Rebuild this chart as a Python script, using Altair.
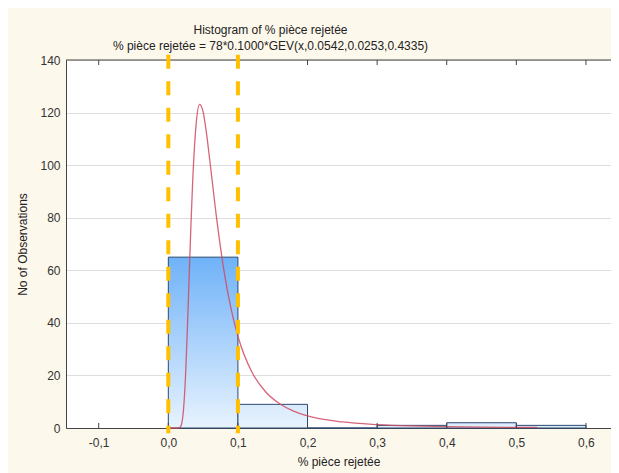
import altair as alt
import pandas as pd

# Histogram bins and counts (N = 78)
bin_start = [0.0, 0.1, 0.2, 0.3, 0.4, 0.5]
bin_end = [0.1, 0.2, 0.3, 0.4, 0.5, 0.6]
counts = [65, 9, 0, 1, 2, 1]

# Fitted GEV curve
curve_x = [0.0, 0.01, 0.015, 0.0175, 0.02, 0.0225, 0.025, 0.0275, 0.03, 0.0325,
           0.035, 0.04, 0.045, 0.05, 0.055, 0.06, 0.07, 0.08, 0.09, 0.10,
           0.12, 0.14, 0.16, 0.18, 0.20, 0.25, 0.30, 0.35, 0.40, 0.45, 0.50, 0.53]
curve_y = [0, 0, 0.03, 0.44, 2.7, 9.3, 21.5, 38.7, 58.1, 77.2,
           93.8, 115.7, 123.1, 120.3, 111.8, 100.9, 78.5, 59.8, 45.5, 34.9,
           21.3, 13.7, 9.2, 6.4, 4.6, 2.3, 1.3, 0.78, 0.51, 0.35, 0.25, 0.2]

x_ticks = [-0.1, 0.0, 0.1, 0.2, 0.3, 0.4, 0.5, 0.6]
y_ticks = [0, 20, 40, 60, 80, 100, 120, 140]
cut_lines = [0.0, 0.1]

title_lines = ["Histogram of % pièce rejetée",
               "% pièce rejetée = 78*0.1000*GEV(x,0.0542,0.0253,0.4335)"]
x_title = "% pièce rejetée"
y_title = "No of Observations"

FONT = "Liberation Sans"
W, H = 545, 368

bars = pd.DataFrame({"start": bin_start, "end": bin_end, "count": counts})
curve = pd.DataFrame({"x": curve_x, "y": curve_y})
ticks = pd.DataFrame({"x": x_ticks})
cuts = pd.DataFrame({"x": cut_lines})
dummy = pd.DataFrame({"a": [0]})

x_scale = alt.Scale(domain=[-0.147, 0.636], nice=False, zero=False)
y_scale = alt.Scale(domain=[0, 140], nice=False)

x_axis = alt.Axis(values=x_ticks,
                  labelExpr="replace(replace(format(datum.value, '.1f'), '.', ','), '\u2212', '-')",
                  ticks=False, grid=False, domain=True, domainColor="#444",
                  labelPadding=9, labelFontSize=12, labelColor="#333", labelFont=FONT,
                  title=x_title, titleFontSize=12, titleFontWeight="normal",
                  titleFont=FONT, titleColor="#222", titlePadding=8)
y_axis = alt.Axis(values=y_ticks, ticks=False, grid=True, gridColor="#dedede",
                  domain=True, domainColor="#444",
                  labelPadding=6, labelFontSize=12, labelColor="#333", labelFont=FONT,
                  title=y_title, titleFontSize=12, titleFontWeight="normal",
                  titleFont=FONT, titleColor="#222", titlePadding=10)


def X(field):
    return alt.X(field, scale=x_scale, axis=x_axis)


def Y(field):
    return alt.Y(field, scale=y_scale, axis=y_axis)


def YD(v):
    return alt.YDatum(v, scale=y_scale, axis=y_axis)


grad_tall = alt.Gradient(gradient="linear", x1=0, x2=0, y1=0, y2=1,
                         stops=[alt.GradientStop(color="#6fb2f8", offset=0),
                                alt.GradientStop(color="#e8f3fe", offset=1)])
grad_small = alt.Gradient(gradient="linear", x1=0, x2=0, y1=0, y2=1,
                          stops=[alt.GradientStop(color="#d8eafc", offset=0),
                                 alt.GradientStop(color="#e8f3fe", offset=1)])

base_bar = alt.Chart(bars).encode(
    x=X("start:Q"),
    x2="end:Q",
    y=Y("count:Q"),
    y2=alt.datum(0),
)
tall = base_bar.transform_filter("datum.count > 20").mark_bar(
    color=grad_tall, stroke="#2a4a72", strokeWidth=1)
small = base_bar.transform_filter("datum.count <= 20").mark_bar(
    color=grad_small, stroke="#2a4a72", strokeWidth=1)

line = alt.Chart(curve).mark_line(color="#cf4a62", strokeWidth=1.3, opacity=0.85,
                                  interpolate="monotone").encode(
    x=X("x:Q"),
    y=Y("y:Q"),
)

orange = alt.Chart(cuts).mark_rule(color="#ffc000", strokeWidth=4,
                                   strokeDash=[14, 12.5], clip=False).encode(
    x=X("x:Q"),
    y=YD(142),
    y2=alt.datum(-2),
)

tick_bottom = alt.Chart(ticks).mark_rule(color="#444", strokeWidth=1).encode(
    x=X("x:Q"),
    y=YD(0),
    y2=alt.datum(1.9),
)
tick_top = alt.Chart(ticks).mark_rule(color="#444", strokeWidth=1).encode(
    x=X("x:Q"),
    y=YD(140),
    y2=alt.datum(138.1),
)
top_frame = alt.Chart(dummy).mark_rule(color="#444", strokeWidth=1).encode(
    x=alt.value(0), x2=alt.value(W), y=alt.value(0),
)

chart = alt.layer(tall, small, line, tick_bottom, tick_top, top_frame, orange).properties(
    width=W, height=H,
    title=alt.TitleParams(text=title_lines, fontSize=12, fontWeight="normal",
                          font=FONT, color="#222", anchor="middle", dx=-68,
                          offset=0, lineHeight=16),
    autosize=alt.AutoSizeParams(type="none"),
    padding={"left": 58, "top": 52, "right": 0, "bottom": 45},
).configure(background="#fdf8ec").configure_view(stroke="transparent", fill="white")

chart.save("out.html", embed_options={"renderer": "svg", "actions": False})
